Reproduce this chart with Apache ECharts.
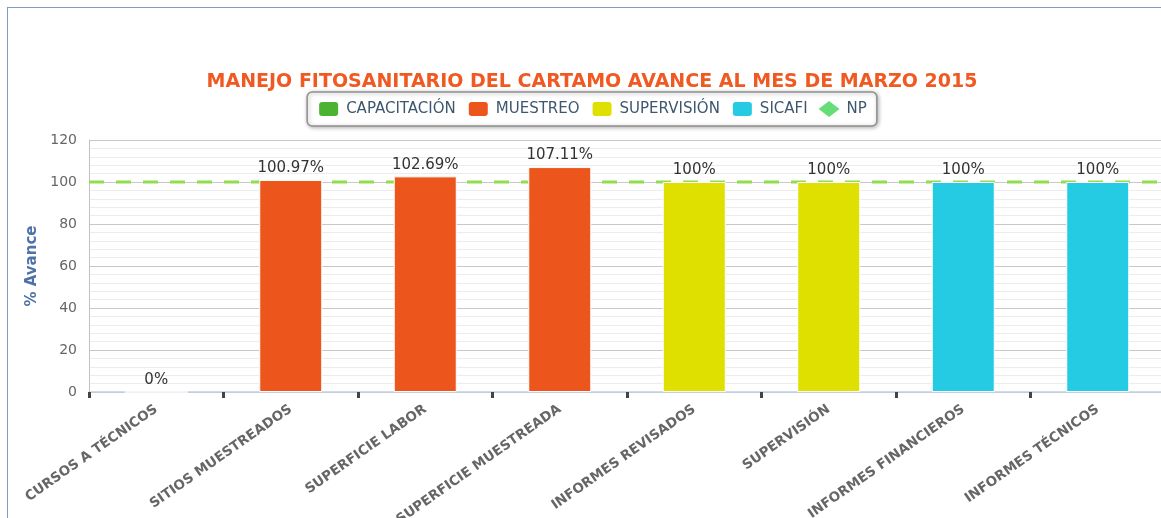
<!DOCTYPE html>
<html>
<head>
<meta charset="utf-8">
<script src="https://cdn.jsdelivr.net/npm/echarts@6/dist/echarts.min.js"></script>
<style>
  html, body { margin: 0; padding: 0; overflow: hidden; background: #fff; }
  #main {
    position: absolute; left: 7px; top: 7px;
    width: 1168px; height: 510px;
    border-left: 1px solid #7f9cc9; border-top: 1px solid #7f9cc9;
  }
</style>
</head>
<body>
<div id="main"></div>
<script>
// datos del grafico
var categorias = ['CURSOS A TÉCNICOS', 'SITIOS MUESTREADOS', 'SUPERFICIE LABOR', 'SUPERFICIE MUESTREADA',
  'INFORMES REVISADOS', 'SUPERVISIÓN', 'INFORMES FINANCIEROS', 'INFORMES TÉCNICOS']
var capacitacion = [0, '-', '-', '-', '-', '-', '-', '-']
var muestreo = ['-', 100.97, 102.69, 107.11, '-', '-', '-', '-']
var supervision = ['-', '-', '-', '-', 100, 100, '-', '-']
var sicafi = ['-', '-', '-', '-', '-', '-', 100, 100]
var np = [100, 100, 100, 100, 100, 100, 100, 100]
var yTicks = [0, 20, 40, 60, 80, 100, 120]

var myChart = echarts.init(document.getElementById('main'))

var fuente = 'DejaVu Sans'
var etiqueta = {
  show: true,
  position: 'top',
  distance: 4,
  color: '#333',
  fontSize: 15,
  fontFamily: fuente,
  formatter: function(p) { return p.value + '%' }
}

function barra(nombre, color, datos) {
  return {
    name: nombre,
    type: 'bar',
    stack: 'total',
    barWidth: 63,
    z: 3,
    data: datos,
    itemStyle: { color: color, borderColor: '#fff', borderWidth: 1 },
    label: etiqueta
  }
}

var option = {
  animation: false,
  textStyle: { fontFamily: fuente },
  title: {
    text: 'MANEJO FITOSANITARIO DEL CARTAMO AVANCE AL MES DE MARZO 2015',
    left: 'center',
    top: 60,
    textStyle: { color: '#f05a22', fontSize: 19, fontWeight: 'bold', fontFamily: fuente }
  },
  legend: {
    top: 84,
    left: 'center',
    padding: [8, 10, 8, 10],
    itemGap: 11,
    itemWidth: 21,
    itemHeight: 16,
    borderColor: '#909090',
    borderWidth: 1.5,
    borderRadius: 5,
    backgroundColor: '#fff',
    shadowColor: 'rgba(0,0,0,0.3)',
    shadowBlur: 4,
    shadowOffsetX: 1,
    shadowOffsetY: 1,
    textStyle: { color: '#3e576f', fontSize: 15, padding: [0, 0, 0, 2], fontFamily: fuente },
    data: [
      { name: 'CAPACITACIÓN', icon: 'roundRect' },
      { name: 'MUESTREO', icon: 'roundRect' },
      { name: 'SUPERVISIÓN', icon: 'roundRect' },
      { name: 'SICAFI', icon: 'roundRect' },
      { name: 'NP', icon: 'diamond' }
    ]
  },
  grid: { left: 81, top: 132, width: 1076, height: 252, outerBoundsMode: 'none', containLabel: false },
  xAxis: [
    {
      type: 'category',
      data: categorias,
      boundaryGap: true,
      axisLine: { lineStyle: { color: '#c0d0e0', width: 1.5 } },
      axisTick: { show: true, length: 6, lineStyle: { color: '#444', width: 3 } },
      axisLabel: {
        interval: 0,
        rotate: 35,
        margin: 16,
        color: '#666',
        fontSize: 13.5,
        fontWeight: 'bold',
        fontFamily: fuente
      }
    },
    {
      type: 'category',
      data: categorias,
      boundaryGap: false,
      show: false
    }
  ],
  yAxis: {
    type: 'value',
    min: yTicks[0],
    max: yTicks[yTicks.length - 1],
    interval: 20,
    name: '% Avance',
    nameLocation: 'middle',
    nameGap: 48,
    nameTextStyle: { color: '#4d73a8', fontSize: 15, fontWeight: 'bold', fontFamily: fuente },
    axisLine: { show: true, lineStyle: { color: '#c0c0c0' } },
    axisTick: { show: false },
    axisLabel: { color: '#666', fontSize: 14, margin: 12, fontFamily: fuente },
    splitLine: { lineStyle: { color: '#c8c8c8' } },
    minorTick: { show: false, splitNumber: 5 },
    minorSplitLine: { show: true, lineStyle: { color: '#ececec' } }
  },
  series: [
    barra('CAPACITACIÓN', '#4cb232', capacitacion),
    barra('MUESTREO', '#ec561c', muestreo),
    barra('SUPERVISIÓN', '#dfdf00', supervision),
    barra('SICAFI', '#25cbe3', sicafi),
    {
      name: 'NP',
      type: 'line',
      xAxisIndex: 1,
      data: np,
      z: 2,
      symbol: 'none',
      itemStyle: { color: '#66dd77' },
      lineStyle: { color: '#92dc50', width: 3, type: [15, 12] }
    }
  ]
}

myChart.setOption(option)
</script>
</body>
</html>
